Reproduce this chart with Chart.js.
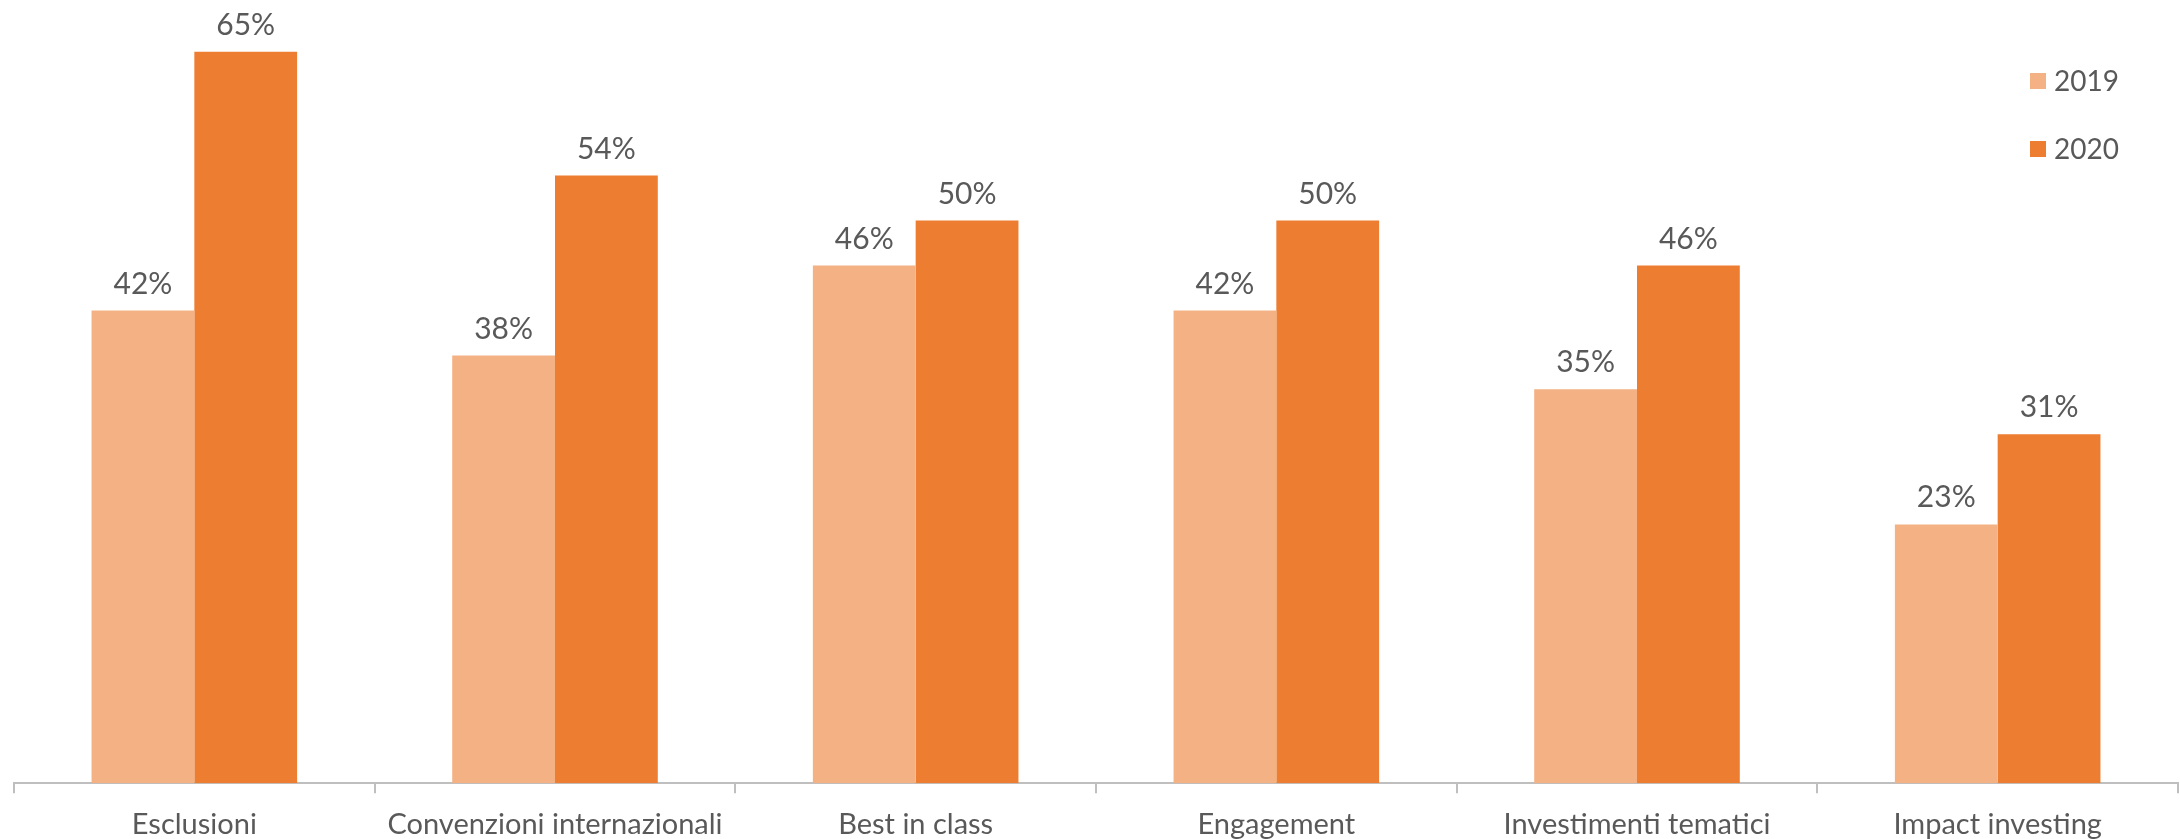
<!DOCTYPE html>
<html>
<head>
<meta charset="utf-8">
<script src="https://cdn.jsdelivr.net/npm/chart.js@4.4.1/dist/chart.umd.min.js"></script>
<style>
  html, body { margin: 0; padding: 0; background: #fff; }
  #wrap { width: 2180px; height: 839px; position: relative; }
</style>
</head>
<body>
<div id="wrap"><canvas id="c"></canvas></div>
<script>
const categories = [
  "Esclusioni",
  "Convenzioni internazionali",
  "Best in class",
  "Engagement",
  "Investimenti tematici",
  "Impact investing",
];
const values2019 = [42, 38, 46, 42, 35, 23];
const values2020 = [65, 54, 50, 50, 46, 31];
const seriesLabels = ["2019", "2020"];

const TEXT = "#595959";
const FONT = "Lato, 'Open Sans', sans-serif";

// value labels above each bar
const barLabels = {
  id: "barLabels",
  afterDatasetsDraw(chart) {
    const { ctx } = chart;
    ctx.save();
    ctx.font = `30px ${FONT}`;
    ctx.fillStyle = TEXT;
    ctx.textAlign = "center";
    ctx.textBaseline = "alphabetic";
    chart.data.datasets.forEach((ds, i) => {
      chart.getDatasetMeta(i).data.forEach((bar, j) => {
        ctx.fillText(ds.data[j] + "%", bar.x, bar.y - 17);
      });
    });
    ctx.restore();
  },
};

// vertical legend in the top right corner
const cornerLegend = {
  id: "cornerLegend",
  afterDraw(chart) {
    const { ctx } = chart;
    ctx.save();
    ctx.font = `28px ${FONT}`;
    ctx.textBaseline = "alphabetic";
    chart.data.datasets.forEach((ds, i) => {
      const top = 73 + i * 68;
      ctx.fillStyle = ds.backgroundColor;
      ctx.fillRect(2030, top, 16, 16);
      ctx.fillStyle = TEXT;
      ctx.fillText(ds.label, 2054, top + 18);
    });
    ctx.restore();
  },
};

new Chart(document.getElementById("c"), {
  type: "bar",
  data: {
    labels: categories,
    datasets: [
      { label: seriesLabels[0], data: values2019, backgroundColor: "#F4B183" },
      { label: seriesLabels[1], data: values2020, backgroundColor: "#ED7D31" },
    ],
  },
  options: {
    responsive: true,
    maintainAspectRatio: false,
    animation: false,
    categoryPercentage: 0.57,
    barPercentage: 1,
    layout: { padding: { left: 14, right: 2, top: 18, bottom: -17 } },
    plugins: { legend: { display: false }, tooltip: { enabled: false } },
    scales: {
      x: {
        offset: true,
        border: { color: "#BFBFBF", width: 2 },
        grid: { offset: true, drawOnChartArea: false, color: "#BFBFBF", lineWidth: 2, tickLength: 10 },
        ticks: { color: TEXT, font: { family: FONT, size: 29 }, padding: 14, maxRotation: 0, autoSkip: false },
      },
      y: { display: false, min: 0, max: 68 },
    },
  },
  plugins: [barLabels, cornerLegend],
});
</script>
</body>
</html>
